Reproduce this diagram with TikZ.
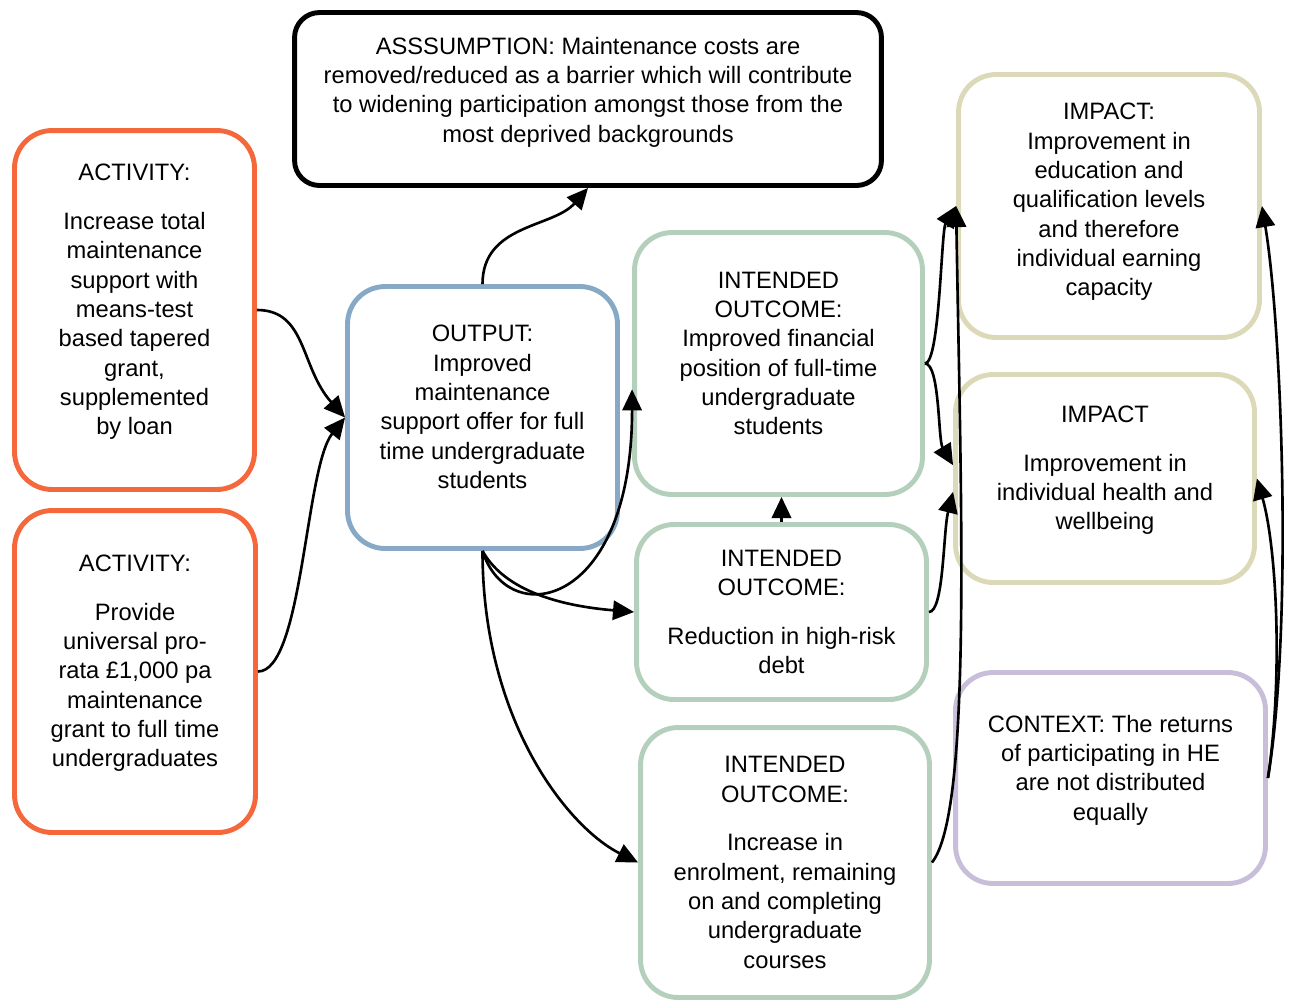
\documentclass[tikz,border=0pt]{standalone}
\usepackage{fontspec}
\setsansfont{Liberation Sans}
\usetikzlibrary{arrows.meta}
\definecolor{actorange}{HTML}{F4683C}
\definecolor{outblue}{HTML}{87A9C6}
\definecolor{ioutgreen}{HTML}{B4D0BC}
\definecolor{imptan}{HTML}{DCD9B8}
\definecolor{ctxpurple}{HTML}{C9BEDA}

\begin{document}
\begin{tikzpicture}[
    x=0.02cm, y=-0.02cm,
    every node/.style={font=\sffamily\fontsize{13.5}{16.7}\selectfont},
    >={Triangle[length=12pt,width=11pt]},
    box/.style={draw=#1, fill=white, rounded corners=0.75cm, line width=2.8pt, align=center, inner sep=2pt},
    link/.style={->, line width=1.5pt},
]
\useasboundingbox (0,0) rectangle (1293,1005);

% Assumption
\node[box=black, rounded corners=0.5cm, minimum width=11.74cm, minimum height=3.46cm, text depth=10.8pt] (assume) at (588,99)
    {ASSSUMPTION: Maintenance costs are\\removed/reduced as a barrier which will contribute\\to widening participation amongst those from the\\most deprived backgrounds};

% Activities
\node[box=actorange, minimum width=4.8cm, minimum height=7.18cm, text depth=12pt] (act1) at (134.5,310)
    {ACTIVITY:\\[11pt]Increase total\\maintenance\\support with\\means-test\\based tapered\\grant,\\supplemented\\by loan};
\node[box=actorange, minimum width=4.82cm, minimum height=6.44cm, text depth=12pt] (act2) at (135,671.5)
    {ACTIVITY:\\[11pt]Provide\\universal pro-\\rata £1,000 pa\\maintenance\\grant to full time\\undergraduates};

% Output
\node[box=outblue, minimum width=5.4cm, minimum height=5.24cm, text depth=12pt] (output) at (482.5,417.5)
    {OUTPUT:\\Improved\\maintenance\\support offer for full\\time undergraduate\\students};

% Intended outcomes
\node[box=ioutgreen, minimum width=5.76cm, minimum height=5.24cm, text depth=11.5pt] (io1) at (778.5,363.5)
    {INTENDED\\OUTCOME:\\Improved financial\\position of full-time\\undergraduate\\students};
\node[box=ioutgreen, minimum width=5.8cm, minimum height=3.5cm] (io2) at (781.5,612)
    {INTENDED\\OUTCOME:\\[11pt]Reduction in high-risk\\debt};
\node[box=ioutgreen, minimum width=5.78cm, minimum height=5.4cm] (io3) at (785,862.5)
    {INTENDED\\OUTCOME:\\[11pt]Increase in\\enrolment, remaining\\on and completing\\undergraduate\\courses};

% Impacts and context
\node[box=imptan, minimum width=6.02cm, minimum height=5.26cm, text depth=7.4pt] (imp1) at (1109,206)
    {IMPACT:\\Improvement in\\education and\\qualification levels\\and therefore\\individual earning\\capacity};
\node[box=imptan, minimum width=5.98cm, minimum height=4.16cm, text depth=12pt] (imp2) at (1105,478.5)
    {IMPACT\\[11pt]Improvement in\\individual health and\\wellbeing};
\node[box=ctxpurple, minimum width=6.2cm, minimum height=4.22cm, text depth=12pt] (context) at (1110.5,778)
    {CONTEXT: The returns\\of participating in HE\\are not distributed\\equally};

% Activities -> output
\draw[link] (act1.east) .. controls +(50,0) and +(-45,-50) .. (output.west);
\draw[link] (act2.east) .. controls +(45,0) and +(-40,50) .. (output.west);

% Output -> assumption / outcomes
\draw[link] (output.north) .. controls +(0,-60) and +(-35,40) .. (assume.south);
\draw[link] (output.south) .. controls +(25,80) and +(0,220) .. (io1.190);
\draw[link] (output.south) .. controls +(25,45) and +(-60,-5) .. (io2.west);
\draw[link] (output.south) .. controls +(0,170) and +(-70,-35) .. (io3.west);
\draw[link] (io2.north) -- (io2.north |- io1.south);

% Outcomes -> impacts
\draw[link] (io1.east) .. controls +(15,0) and +(-15,25) .. (imp1.west);
\draw[link] (io1.east) .. controls +(15,0) and +(-15,-25) .. (imp2.175);
\draw[link] (io2.east) .. controls +(15,0) and +(-10,40) .. (imp2.185);
\draw[link] (io3.east) .. controls +(40,-50) and +(5,300) .. (imp1.west);

% Context -> impacts
\draw[link] (context.east) .. controls +(25,-150) and +(20,120) .. (imp1.east);
\draw[link] (context.east) .. controls +(15,-100) and +(20,70) .. (imp2.east);

\end{tikzpicture}
\end{document}
